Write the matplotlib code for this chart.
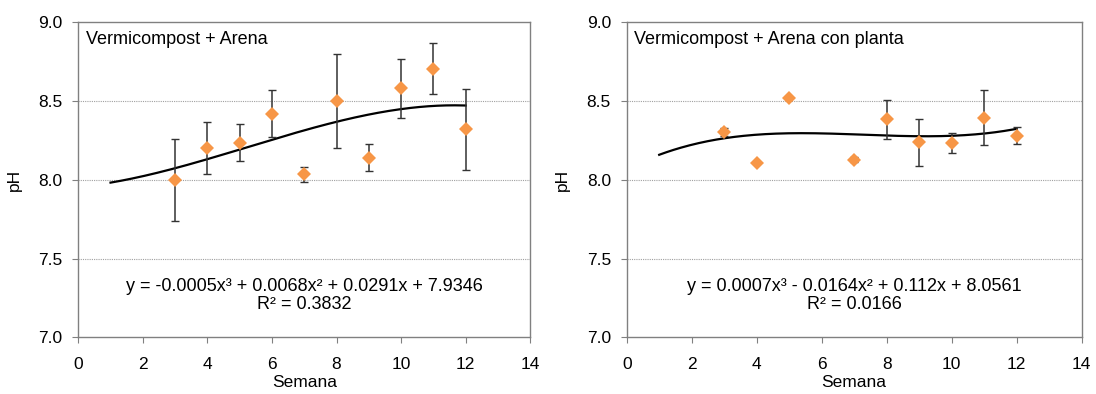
import numpy as np
import matplotlib.pyplot as plt

plt.rcParams['font.family'] = ['Liberation Sans', 'DejaVu Sans']

# semanas
weeks_a = [3, 4, 5, 6, 7, 8, 9, 10, 11, 12]
ph_a = [8.00, 8.20, 8.235, 8.42, 8.035, 8.50, 8.14, 8.58, 8.705, 8.32]
err_a = [0.26, 0.165, 0.117, 0.147, 0.047, 0.30, 0.085, 0.186, 0.162, 0.257]

weeks_b = [3, 4, 5, 7, 8, 9, 10, 11, 12]
ph_b = [8.305, 8.105, 8.52, 8.127, 8.384, 8.238, 8.232, 8.395, 8.28]
err_b = [0.025, 0.0, 0.0, 0.015, 0.125, 0.148, 0.065, 0.175, 0.055]

titles = ['Vermicompost + Arena', 'Vermicompost + Arena con planta']
equations = ['y = -0.0005x³ + 0.0068x² + 0.0291x + 7.9346\nR² = 0.3832',
             'y = 0.0007x³ - 0.0164x² + 0.112x + 8.0561\nR² = 0.0166']

fig = plt.figure(figsize=(10.96, 3.94), dpi=100)
ax1 = fig.add_axes([0.0714, 0.144, 0.4124, 0.7995])
ax2 = fig.add_axes([0.5718, 0.144, 0.4151, 0.7995])

orange = '#F79646'
for ax, x, y, e, title, eq in [(ax1, weeks_a, ph_a, err_a, titles[0], equations[0]),
                               (ax2, weeks_b, ph_b, err_b, titles[1], equations[1])]:
    # linea de tendencia polinomica (orden 3), como en Excel
    coef = np.polyfit(x, y, 3)
    xs = np.linspace(1, 12, 200)
    ax.plot(xs, np.polyval(coef, xs), color='black', lw=1.6, zorder=2)

    ax.errorbar(x, y, yerr=e, fmt='none', ecolor='#333333', elinewidth=1.1,
                capsize=3, capthick=1, zorder=3)
    ax.plot(x, y, 'D', color=orange, markersize=7, markeredgewidth=0, zorder=4)

    ax.set_xlim(0, 14)
    ax.set_ylim(7.0, 9.0)
    ax.set_xticks(range(0, 15, 2))
    ax.set_yticks([7.0, 7.5, 8.0, 8.5, 9.0])
    ax.set_yticklabels(['7.0', '7.5', '8.0', '8.5', '9.0'])
    for gy in [7.5, 8.0, 8.5]:
        ax.axhline(gy, color='#a0a0a0', lw=0.8, ls=(0, (1, 1)), zorder=1)
    for s in ax.spines.values():
        s.set_color('#808080')
        s.set_linewidth(1.0)
    ax.tick_params(direction='out', length=4.3, color='#808080', labelsize=12.5)
    ax.tick_params(axis='y', pad=7)
    ax.tick_params(axis='x', pad=10)
    ax.set_xlabel('Semana', fontsize=12.5, labelpad=2)
    ax.set_ylabel('pH', fontsize=12.5, labelpad=12)
    ax.text(0.017, 0.946, title, transform=ax.transAxes, fontsize=13,
            ha='left', va='center')
    ax.text(0.5, 0.133, eq, transform=ax.transAxes, fontsize=13,
            ha='center', va='center', multialignment='center', linespacing=1.1)

fig.savefig('out.png', dpi=100)
